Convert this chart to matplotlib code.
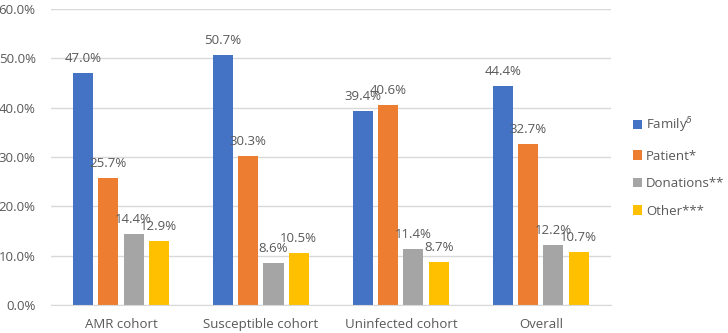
import matplotlib.pyplot as plt
import numpy as np

plt.rcParams['font.family'] = ['Open Sans', 'DejaVu Sans']

# -----------------------------
# DATA
# -----------------------------
cohorts = ["AMR cohort", "Susceptible cohort", "Uninfected cohort", "Overall"]
family = [47.0, 50.7, 39.4, 44.4]
patient = [25.7, 30.3, 40.6, 32.7]
donations = [14.4, 8.6, 11.4, 12.2]
other = [12.9, 10.5, 8.7, 10.7]

series = [
    ("Family$^{\\delta}$", family, "#4472C4"),
    ("Patient*", patient, "#ED7D31"),
    ("Donations**", donations, "#A5A5A5"),
    ("Other***", other, "#FFC000"),
]

# -----------------------------
# PLOT
# -----------------------------
fig = plt.figure(figsize=(7.28, 3.33), dpi=100)
ax = fig.add_axes([0.070, 0.084, 0.769, 0.889])

x = np.arange(len(cohorts))
width = 0.143
step = 0.18
grey = "#595959"

for i, (name, vals, color) in enumerate(series):
    pos = x + (i - 1.5) * step
    bars = ax.bar(pos, vals, width, color=color, label=name, zorder=3)
    for b, v in zip(bars, vals):
        ax.text(b.get_x() + b.get_width() / 2, v + 1.6, f"{v:.1f}%",
                ha="center", va="bottom", fontsize=9.5, color=grey, zorder=4)

ax.set_xlim(-0.5, 3.5)
ax.set_ylim(0, 60)
ax.set_yticks(np.arange(0, 61, 10))
ax.set_yticklabels([f"{t:.1f}%" for t in np.arange(0, 61, 10)])
ax.set_xticks(x)
ax.set_xticklabels(cohorts)
ax.tick_params(axis="both", length=0, labelsize=9.5, colors=grey)
ax.tick_params(axis="x", pad=9)
ax.tick_params(axis="y", pad=11)

ax.yaxis.grid(True, color="#D9D9D9", linewidth=1, zorder=0)
for s in ["top", "right", "left"]:
    ax.spines[s].set_visible(False)
ax.spines["bottom"].set_color("#D9D9D9")
ax.spines["bottom"].set_zorder(5)

leg = fig.legend(loc="center left", bbox_to_anchor=(0.862, 0.50), frameon=False,
                 fontsize=9.5, handlelength=0.7, handleheight=0.7,
                 handletextpad=0.3, labelspacing=1.1, borderaxespad=0)
for t in leg.get_texts():
    t.set_color(grey)

fig.savefig("out.png", dpi=100)
